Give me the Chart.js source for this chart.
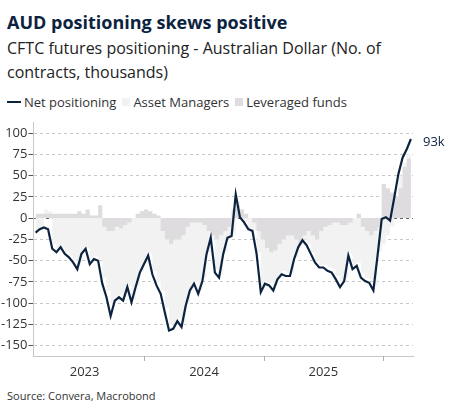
<!DOCTYPE html>
<html>
<head>
<meta charset="utf-8">
<script src="https://cdn.jsdelivr.net/npm/chart.js@4.4.0/dist/chart.umd.min.js"></script>
<style>
  body { margin: 0; background: #fff; font-family: "Open Sans", "Noto Sans", sans-serif; color: #0c2340; }
  #wrap { width: 453px; height: 417px; position: relative; }
  h1 { margin: 0; position: absolute; left: 7px; top: 10px; font-size: 18px; font-weight: 700; }
  .sub { position: absolute; left: 7px; top: 36px; font-size: 16px; line-height: 24px; color: #222; width: 440px; }
  .legend { position: absolute; left: 7px; top: 93px; font-size: 13px; color: #333; display: flex; align-items: center; }
  .legend span { display: inline-flex; align-items: center; margin-right: 6px; }
  .sw { display: inline-block; width: 8px; height: 8px; margin-right: 3px; }
  .ln { display: inline-block; width: 14px; height: 2px; background: #0c2340; margin-right: 3px; }
  #c { position: absolute; left: 0; top: 114px; }
  .src { position: absolute; left: 7px; top: 388px; font-size: 11px; color: #333; }
</style>
</head>
<body>
<div id="wrap">
  <h1>AUD positioning skews positive</h1>
  <div class="sub">CFTC futures positioning - Australian Dollar (No. of contracts, thousands)</div>
  <div class="legend">
    <span><i class="ln"></i>Net positioning</span>
    <span><i class="sw" style="background:#f2f2f2"></i>Asset Managers</span>
    <span><i class="sw" style="background:#dedcde"></i>Leveraged funds</span>
  </div>
  <canvas id="c" width="453" height="272"></canvas>
  <div class="src">Source: Convera, Macrobond</div>
</div>
<script>
const yearLabels = ["2023", "2024", "2025"];
const yearLabelPos = [11.75, 40.4, 69];
const yearTickPos = [26, 54.75, 83.25];
const yTicks = [100, 75, 50, 25, 0, -25, -50, -75, -100, -125, -150];

const netPositioning = [-17, -13, -11, -13, -36, -40, -34, -42, -46, -52, -60, -42, -36, -54, -48, -50,
  -77, -93, -115, -97, -93, -97, -81, -99, -81, -64, -54, -44, -66, -79, -89, -111, -132, -130, -121,
  -128, -103, -85, -77, -89, -74, -42, -23, -64, -70, -42, -23, -21, 28, 1, -5, -13, -15, -42, -87,
  -77, -79, -85, -72, -66, -68, -68, -48, -34, -26, -32, -42, -52, -58, -58, -62, -64, -72, -81, -74,
  -44, -60, -56, -70, -74, -76, -85, -44, -1, 1, -3, 24, 52, 71, 81, 93];

const leveragedFunds = [5, 5, 5, 5, 5, 5, 5, 5, 5, 5, 8, 5, 10, 3, 3, 15,
  -10, -15, -15, -10, -12, -8, -5, 0, 5, 8, 10, 8, 5, 3, -15, -25, -30, -25, -25,
  -20, -10, -5, -5, -5, -8, -15, -20, -25, -20, -15, -10, 10, 15, 10, 5, 0, -5, -15, -25,
  -35, -40, -38, -30, -25, -20, -20, -25, -30, -20, -15, -20, -25, -15, -10, -8, -5, -5, -8, -8,
  -5, 0, 5, -10, -15, -20, -15, -10, 40, 35, 30, 25, 35, 60, 70, 45];

const assetManagers = [-15, -12, 10, 8, -30, -38, -35, -40, -44, -50, -55, -40, -35, -50, -45, -48,
  -70, -85, -100, -92, -90, -92, -80, -95, -80, -62, -52, -42, -62, -75, -85, -105, -125, -125, -118,
  -122, -100, -82, -75, -85, -70, -40, -25, -60, -65, -40, -25, -20, 20, 0, -5, -12, -14, -40, -80,
  -75, -76, -80, -70, -62, -64, -64, -46, -32, -25, -30, -40, -50, -55, -55, -58, -60, -68, -75, -70,
  -42, -55, -52, -65, -70, -72, -80, -40, -30, -20, -10, 20, 50, 65, 75, 80];

const idx = netPositioning.map((_, i) => i);
const pts = arr => arr.map((v, i) => ({ x: idx[i], y: v }));

const extras = {
  id: "extras",
  afterDatasetsDraw(chart) {
    const { ctx, scales } = chart;
    const x = scales.x, y = scales.y;
    ctx.save();
    ctx.font = "13px 'Open Sans', sans-serif";
    ctx.fillStyle = "#0c2340";
    ctx.textBaseline = "middle";
    ctx.fillText("93k", x.right + 10, y.getPixelForValue(netPositioning[netPositioning.length - 1]) + 3);
    ctx.strokeStyle = "#b0b0b0";
    ctx.lineWidth = 1;
    yearTickPos.forEach(p => {
      const px = Math.round(x.getPixelForValue(p)) + 0.5;
      ctx.beginPath(); ctx.moveTo(px, y.bottom); ctx.lineTo(px, y.bottom + 5); ctx.stroke();
    });
    ctx.fillStyle = "#333";
    ctx.textAlign = "center";
    ctx.textBaseline = "top";
    yearLabels.forEach((t, i) => ctx.fillText(t, x.getPixelForValue(yearLabelPos[i]), y.bottom + 10));
    ctx.restore();
  }
};

new Chart(document.getElementById("c"), {
  type: "line",
  data: {
    datasets: [
      { label: "Net positioning", data: pts(netPositioning), borderColor: "#0c2340", borderWidth: 2.2,
        pointRadius: 0, fill: false, order: 0 },
      { label: "Leveraged funds", data: pts(leveragedFunds), borderWidth: 0, backgroundColor: "#dedcde",
        stepped: true, pointRadius: 0, fill: "origin", order: 1 },
      { label: "Asset Managers", data: pts(assetManagers), borderWidth: 0, backgroundColor: "#f2f2f2",
        stepped: true, pointRadius: 0, fill: "origin", order: 2 }
    ]
  },
  options: {
    responsive: false,
    animation: false,
    layout: { padding: { left: 0, right: 40, top: 0, bottom: 22 } },
    plugins: { legend: { display: false }, tooltip: { enabled: false } },
    scales: {
      x: {
        type: "linear", min: -0.5, max: 90.5,
        grid: { display: false },
        border: { color: "#c8c8c8" },
        ticks: { display: false }
      },
      y: {
        min: -162, max: 112,
        afterBuildTicks: s => { s.ticks = yTicks.map(v => ({ value: v })); },
        border: { color: "#c8c8c8", display: true, dash: [3, 3] },
        grid: {
          color: c => c.tick.value === 0 ? "#666" : "#c8c8c8",
          tickColor: "#555", tickLength: 5, drawTicks: true
        },
        ticks: { color: "#333", font: { size: 13, family: "'Open Sans', sans-serif" }, padding: 1 }
      }
    }
  },
  plugins: [extras]
});
</script>
</body>
</html>
